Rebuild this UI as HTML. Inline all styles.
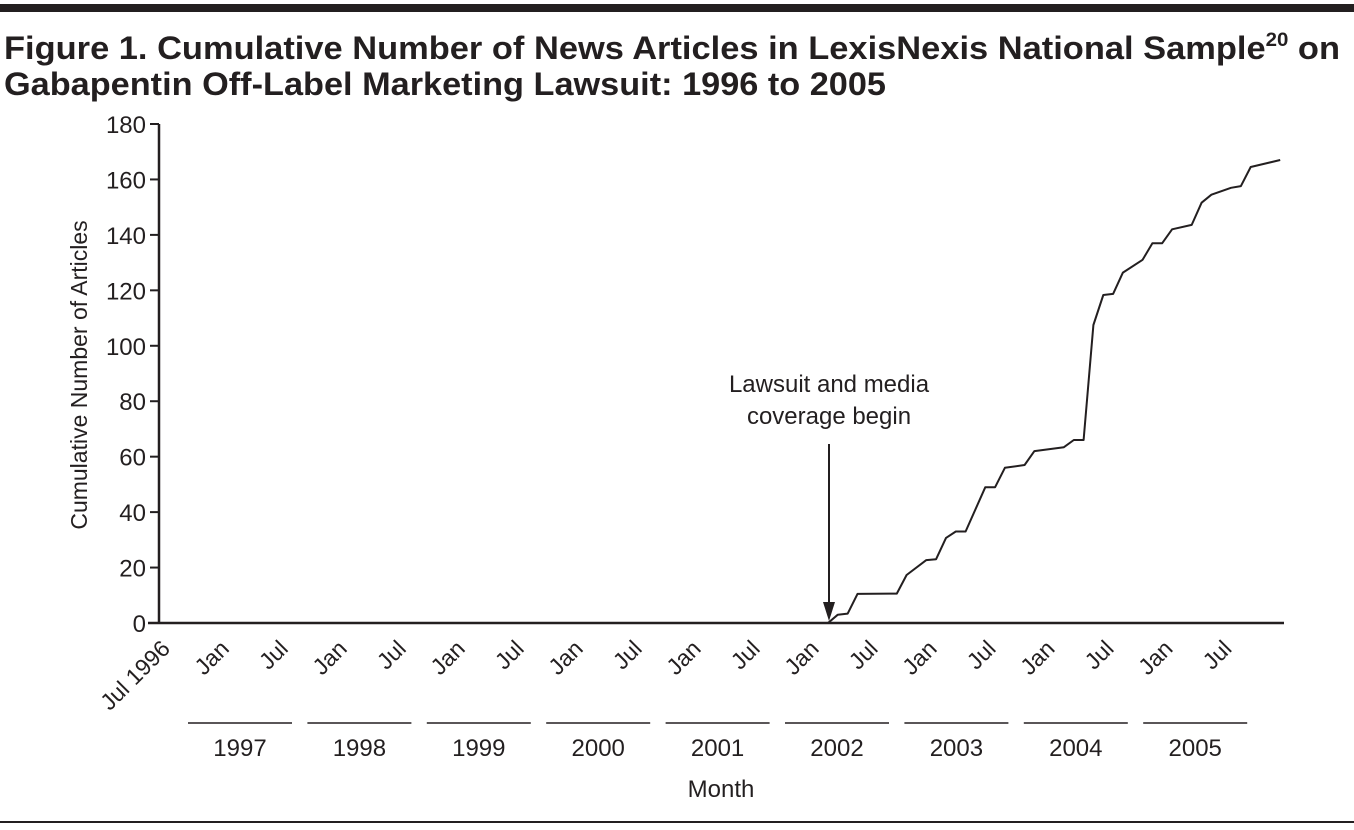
<!DOCTYPE html>
<html><head><meta charset="utf-8"><style>
html,body{margin:0;padding:0;background:#fff;}
svg{display:block;font-family:"Liberation Sans",sans-serif;}
</style></head><body>
<svg id="chart" width="1354" height="830" viewBox="0 0 1354 830">
<rect x="0" y="4" width="1354" height="8" fill="#231f20"/>
<text x="4" y="59" font-size="32" font-weight="bold" fill="#231f20" textLength="1336" lengthAdjust="spacingAndGlyphs">Figure 1. Cumulative Number of News Articles in LexisNexis National Sample<tspan font-size="19" dy="-13">20</tspan><tspan dy="13"> on</tspan></text>
<text x="4" y="95" font-size="32" font-weight="bold" fill="#231f20" textLength="882" lengthAdjust="spacingAndGlyphs">Gabapentin Off-Label Marketing Lawsuit: 1996 to 2005</text>
<g id="axes"></g>
<g id="plot"></g>
<text transform="translate(87,375) rotate(-90)" text-anchor="middle" font-size="23" fill="#231f20">Cumulative Number of Articles</text>
<text x="721" y="797" text-anchor="middle" font-size="24" fill="#231f20">Month</text>
<text x="829" y="392" text-anchor="middle" font-size="24" fill="#231f20">Lawsuit and media</text>
<text x="829" y="424" text-anchor="middle" font-size="24" fill="#231f20">coverage begin</text>
<line x1="829" y1="444" x2="829" y2="606" stroke="#231f20" stroke-width="2"/>
<polygon points="823,602 835,602 829,621" fill="#231f20"/>
<rect x="0" y="821" width="1354" height="2" fill="#231f20"/>
</svg>
<script>
const months=[0,67,68,69,70,74,75,77,78,79,80,81,83,84,85,87,88,91,92,93,94,95,96,97,99,100,101,102,104,105,106,108,109,110,113];
const values=[0,0,3,3.4,10.5,10.6,17.3,22.7,23,30.7,33,33,49,49,56,57,62,63.4,66,66,107.5,118.3,118.7,126.4,131,137,137,142,143.6,151.6,154.5,157,157.6,164.5,167];
const yTicks=[0,20,40,60,80,100,120,140,160,180];
const xTickLabels=["Jul 1996","Jan","Jul","Jan","Jul","Jan","Jul","Jan","Jul","Jan","Jul","Jan","Jul","Jan","Jul","Jan","Jul","Jan","Jul"];
const xTickMonths=[0,6,12,18,24,30,36,42,48,54,60,66,72,78,84,90,96,102,108];
const years=["1997","1998","1999","2000","2001","2002","2003","2004","2005"];
const NS="http://www.w3.org/2000/svg";
const xs=m=>169.4+9.83*m;
const ys=v=>623-v*(499/180);
function mk(tag,attrs,parent){const e=document.createElementNS(NS,tag);for(const k in attrs)e.setAttribute(k,attrs[k]);parent.appendChild(e);return e;}
const ax=document.getElementById('axes');
let l=mk('line',{x1:159,y1:124,x2:159,y2:623,stroke:'#231f20','stroke-width':2.5},ax);


l=mk('line',{x1:148,y1:623,x2:1284,y2:623,stroke:'#231f20','stroke-width':2.5},ax);


yTicks.forEach(v=>{
 const t=mk('line',{x1:150,y1:ys(v),x2:159,y2:ys(v),stroke:'#231f20','stroke-width':2},ax);
 
 
 const tx=mk('text',{x:146,y:ys(v)+9,'text-anchor':'end','font-size':24,fill:'#231f20'},ax);
 tx.textContent=v;
 
 
});
xTickLabels.forEach((s,i)=>{
 const x=xs(xTickMonths[i]);
 const tx=mk('text',{transform:`translate(${x+2},${650}) rotate(-45)`,'text-anchor':'end','font-size':23,fill:'#231f20'},ax);
 tx.textContent=s;
 
 
});
years.forEach((y,i)=>{
 const cx=240+119.4*i;
 const b=mk('line',{x1:cx-52,y1:723,x2:cx+52,y2:723,stroke:'#231f20','stroke-width':1.5},ax);
 
 
 const tx=mk('text',{x:cx,y:756,'text-anchor':'middle','font-size':24,fill:'#231f20'},ax);
 tx.textContent=y;
 
 
});
const pts=months.map((m,i)=>(i===0?159:xs(m)).toFixed(1)+','+ys(values[i]).toFixed(1)).join(' ');
const pl=mk('polyline',{points:pts,fill:'none',stroke:'#231f20','stroke-width':2,'stroke-linejoin':'round'},document.getElementById('plot'));


</script>
</body></html>
